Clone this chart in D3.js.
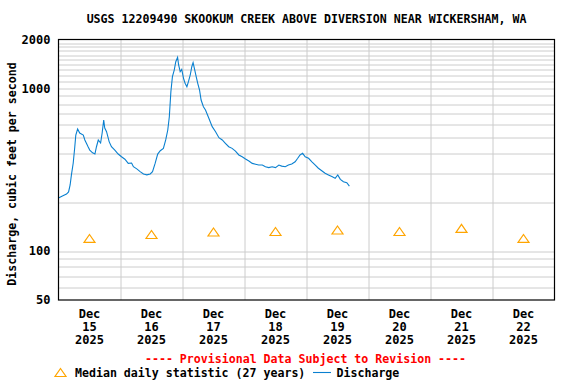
<!DOCTYPE html>
<html>
<head>
<meta charset="utf-8">
<script src="https://cdn.jsdelivr.net/npm/d3@7"></script>
<style>
  body { margin: 0; background: #fff; }
  text { font-family: "DejaVu Sans Mono", monospace; font-weight: bold; }
</style>
</head>
<body>
<svg id="chart" width="576" height="384"></svg>
<script>
"use strict";

// hours after Dec 15 2025 00:00 and discharge (cfs)
var flowHours = [0, 1.5, 3.1, 3.9, 4.5, 5.0, 5.7, 6.3, 6.7, 7.4, 8.2, 9.6, 10.2, 11.5, 12.1, 13.2, 14.1, 14.7, 15.4, 16.3,
  16.9, 17.5, 17.9, 18.6, 19.6, 20.5, 21.8, 23.1, 24.4, 25.7, 27.0, 28.3, 29.0, 30.3, 31.6, 32.9, 34.2, 35.5, 36.4, 37.4,
  38.4, 39.4, 40.6, 41.5, 42.3, 42.9, 43.5, 44.1, 44.8, 45.4, 46.1, 46.5, 47.1, 47.7, 48.4, 49.0, 49.7, 50.3, 51.0, 51.6,
  52.1, 52.6, 53.3, 53.9, 54.6, 55.2, 56.1, 56.9, 58.2, 59.5, 60.8, 62.1, 63.4, 64.6, 65.9, 67.2, 68.5, 69.8, 71.1, 72.4,
  73.7, 75.0, 76.3, 77.5, 78.9, 80.1, 81.4, 82.7, 84.0, 85.3, 86.4, 87.8, 89.0, 90.3, 91.6, 92.6, 93.5, 94.5, 95.5, 96.8,
  98.1, 99.4, 100.6, 101.9, 103.2, 104.5, 105.8, 107.1, 108.1, 109.1, 110.3, 111.6, 112.6];
var flowCfs = [212, 218, 224, 231, 255, 294, 348, 436, 517, 563, 532, 517, 482, 436, 418, 402, 395, 438, 482, 462,
  532, 640, 571, 542, 471, 438, 418, 395, 380, 367, 346, 348, 330, 320, 308, 298, 294, 298, 308, 346,
  395, 414, 428, 482, 555, 670, 955, 1181, 1298, 1460, 1554, 1394, 1268, 1311, 1154, 1076, 1025, 1100, 1210, 1360,
  1440, 1330, 1181, 1076, 978, 849, 772, 737, 655, 582, 542, 498, 482, 460, 438, 428, 412, 390, 380, 368,
  358, 346, 342, 338, 338, 330, 326, 330, 326, 338, 333, 330, 338, 343, 354, 372, 390, 399, 380, 372,
  354, 338, 323, 312, 301, 294, 287, 280, 294, 276, 267, 263, 251];

// median daily statistic, one per day (plotted at noon)
var medianDays = [15, 16, 17, 18, 19, 20, 21, 22];
var medianCfs = [119.5, 126.4, 131, 131.9, 134.7, 131.9, 138, 119.5];

var yTickValues = [50, 100, 1000, 2000];
var yGridValues = [60, 70, 80, 90, 100, 200, 300, 400, 500, 600, 700, 800, 900, 1000,
  1100, 1200, 1300, 1400, 1500, 1600, 1700, 1800, 1900];

var titleText = "USGS 12209490 SKOOKUM CREEK ABOVE DIVERSION NEAR WICKERSHAM, WA";
var yLabelText = "Discharge, cubic feet per second";
var provisionalText = "---- Provisional Data Subject to Revision ----";
var medianLabel = "Median daily statistic (27 years)";
var flowLabel = "Discharge";

var lineColor = "#0a80d0";
var medianColor = "#ffa500";

var margin = { top: 39.5, left: 58.5 };
var width = 496, height = 260.5;

var svg = d3.select("#chart");
var g = svg.append("g").attr("transform", "translate(" + margin.left + "," + margin.top + ")");

var t0 = Date.UTC(2025, 11, 15);
var hourMs = 3600 * 1000;

var x = d3.scaleUtc()
  .domain([new Date(t0), new Date(Date.UTC(2025, 11, 23))])
  .range([0, width]);
var y = d3.scaleLog().domain([50, 2000]).range([height, 0]);

// horizontal grid
g.append("g").selectAll("line").data(yGridValues).enter().append("line")
  .attr("x1", 0).attr("x2", width)
  .attr("y1", function(d) { return Math.round(y(d)) + 0.5; })
  .attr("y2", function(d) { return Math.round(y(d)) + 0.5; })
  .attr("stroke", "#cccccc");

// vertical grid at midnight
var midnights = d3.utcDay.range(new Date(t0 + hourMs), x.domain()[1]);
g.append("g").selectAll("line").data(midnights).enter().append("line")
  .attr("x1", function(d) { return Math.round(x(d)) + 0.5; })
  .attr("x2", function(d) { return Math.round(x(d)) + 0.5; })
  .attr("y1", 0).attr("y2", height)
  .attr("stroke", "#cccccc");

// discharge line
var flow = flowHours.map(function(h, i) { return { t: new Date(t0 + h * hourMs), v: flowCfs[i] }; });
g.append("path").datum(flow)
  .attr("fill", "none").attr("stroke", lineColor).attr("stroke-width", 1.1)
  .attr("d", d3.line().x(function(d) { return x(d.t); }).y(function(d) { return y(d.v); }));

// median triangles
var tri = "M0,-4L5.5,4L-5.5,4Z";
g.append("g").selectAll("path").data(medianDays).enter().append("path")
  .attr("transform", function(d, i) {
    return "translate(" + x(new Date(Date.UTC(2025, 11, d, 12))) + "," + y(medianCfs[i]) + ")";
  })
  .attr("d", tri).attr("fill", "none").attr("stroke", medianColor).attr("stroke-width", 1.2);

// frame
g.append("rect").attr("width", width).attr("height", height)
  .attr("fill", "none").attr("stroke", "#000").attr("stroke-width", 1.2);

// y tick labels
g.append("g").selectAll("text").data(yTickValues).enter().append("text")
  .attr("x", -8).attr("y", function(d) { return y(d); }).attr("dy", "0.36em")
  .attr("text-anchor", "end").attr("font-size", 12).text(function(d) { return d; });

// x tick labels at noon
var noons = medianDays.map(function(d) { return new Date(Date.UTC(2025, 11, d, 12)); });
var xl = g.append("g").selectAll("text").data(noons).enter().append("text")
  .attr("text-anchor", "middle").attr("font-size", 12)
  .attr("transform", function(d) { return "translate(" + x(d) + "," + (height + 18) + ")"; });
xl.append("tspan").attr("x", 0).attr("y", 0).text(d3.utcFormat("%b"));
xl.append("tspan").attr("x", 0).attr("y", 13).text(d3.utcFormat("%d"));
xl.append("tspan").attr("x", 0).attr("y", 26).text(d3.utcFormat("%Y"));

// title
svg.append("text").attr("x", margin.left + width / 2).attr("y", 23)
  .attr("text-anchor", "middle").attr("font-size", 11.6).text(titleText);

// y label
svg.append("text").attr("transform", "translate(16,174) rotate(-90)")
  .attr("text-anchor", "middle").attr("font-size", 11.6).text(yLabelText);

// provisional note
svg.append("text").attr("x", 305.5).attr("y", 363).attr("text-anchor", "middle")
  .attr("font-size", 11.6).attr("fill", "#ff0000").text(provisionalText);

// legend
svg.append("path").attr("d", tri).attr("transform", "translate(60.5,372.5)")
  .attr("fill", "none").attr("stroke", medianColor).attr("stroke-width", 1.2);
svg.append("text").attr("x", 75).attr("y", 377).attr("font-size", 11.6).text(medianLabel);
svg.append("line").attr("x1", 313).attr("x2", 331).attr("y1", 372.5).attr("y2", 372.5)
  .attr("stroke", lineColor).attr("stroke-width", 1.1);
svg.append("text").attr("x", 336.5).attr("y", 377).attr("font-size", 11.6).text(flowLabel);
</script>
</body>
</html>
